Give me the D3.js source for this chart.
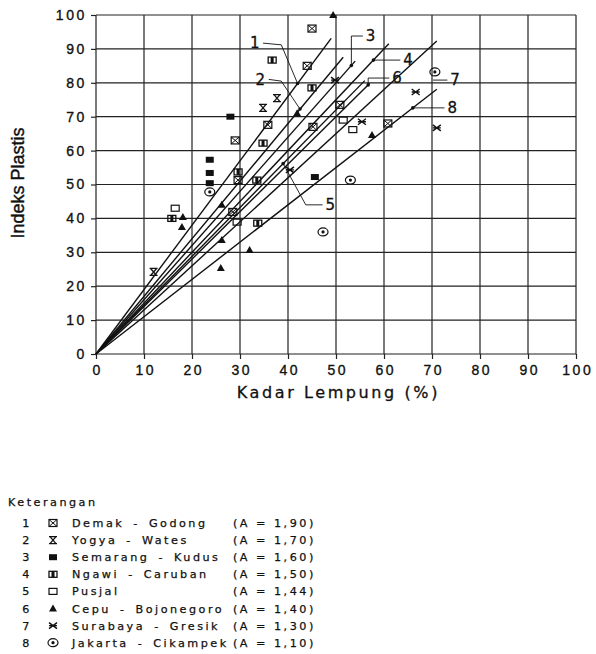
<!DOCTYPE html>
<html>
<head>
<meta charset="utf-8">
<script src="https://cdn.jsdelivr.net/npm/d3@7/dist/d3.min.js"></script>
<style>
    body { margin: 0; background: #fff; }
    svg { display: block; font-family: "DejaVu Sans", sans-serif; }
    .tick-label { font-size: 14px; letter-spacing: 2.6px; fill: #111; stroke: #111; stroke-width: 0.35px; }
    .legend text { font-size: 11.2px; letter-spacing: 2.5px; fill: #111; stroke: #111; stroke-width: 0.25px; }
</style>
</head>
<body>
<svg id="chart" width="596" height="654"></svg>
<script>
// tick values on both axes
const xTicks = [0, 10, 20, 30, 40, 50, 60, 70, 80, 90, 100];
const yTicks = [0, 10, 20, 30, 40, 50, 60, 70, 80, 90, 100];

// regression lines: IP = A * kadar lempung
const lineNames = ["1", "2", "3", "4", "5", "6", "7", "8"];
const lineSlopes = [1.90, 1.70, 1.60, 1.50, 1.44, 1.40, 1.30, 1.10];
const lineEndX = [49, 51.5, 54, 61, 56, 57, 71, 71];

// line labels and their leader lines (last point lands on the line at leaderX; null = short dash only)
const labelPos = [[33.1, 91.7], [34.2, 81], [57.2, 93.8], [65, 86.7], [48.8, 44], [62.7, 81.4], [74.8, 80.8], [74.2, 72.6]];
const leaderBends = [
    [[34.8, 91.7], [38.6, 91.2]],
    [[36, 81], [38.6, 80.5]],
    [[55.6, 93.8], [53.2, 93.8]],
    [[63.4, 86.7]],
    [[47.2, 44], [43.7, 44]],
    [[61.1, 81.4], [56.7, 81.4]],
    [[73.2, 80.8], [70.2, 80.8]],
    [[72.6, 72.6]]
];
const leaderX = [42, 42.5, 53.2, 57.8, 39, 56.7, null, 66];

// legend
const regionNames = ["Demak - Godong", "Yogya - Wates", "Semarang - Kudus", "Ngawi - Caruban",
    "Pusjal", "Cepu - Bojonegoro", "Surabaya - Gresik", "Jakarta - Cikampek"];
const aLabels = ["1,90", "1,70", "1,60", "1,50", "1,44", "1,40", "1,30", "1,10"];

// observed points [kadar lempung, indeks plastis]
const demakGodong = [[45, 96], [44, 85], [29, 63], [35.8, 67.6], [50.8, 73.5], [60.8, 68], [29.6, 51.3], [45.2, 67], [28.5, 41.9]];
const yogyaWates = [[37.7, 75.5], [12, 24.2], [34.8, 72.6]];
const semarangKudus = [[28, 70], [23.7, 57.3], [23.7, 53.4], [23.7, 50.4], [45.6, 52.2]];
const ngawiCaruban = [[36.7, 86.7], [45, 78.5], [34.8, 62.2], [15.8, 40], [33.5, 51.3], [29.6, 53.7], [33.7, 38.6]];
const pusjal = [[16.5, 43], [51.5, 69], [53.5, 66.2], [29.4, 38.9]];
const cepuBojonegoro = [[49.4, 100], [41.9, 71], [18.1, 40.4], [17.9, 37.5], [26, 25.4], [32, 30.7], [26.2, 33.6], [26.2, 44], [57.5, 64.6]];
const surabayaGresik = [[66.6, 77.3], [71, 66.7], [55.4, 68.5], [49.8, 80.8], [40.4, 54.3]];
const jakartaCikampek = [[70.6, 83.2], [53, 51.3], [47.3, 36], [23.7, 47.8]];

const series = [demakGodong, yogyaWates, semarangKudus, ngawiCaruban, pusjal, cepuBojonegoro, surabayaGresik, jakartaCikampek];

const margin = {top: 15, left: 96};
const width = 480, height = 339;

const svg = d3.select("#chart");
svg.append("rect").attr("width", 596).attr("height", 654).attr("fill", "#fff");

const g = svg.append("g").attr("transform", "translate(" + margin.left + "," + margin.top + ")");

const x = d3.scaleLinear().domain([0, 100]).range([0, width]);
const y = d3.scaleLinear().domain([0, 100]).range([height, 0]);

// grid
g.selectAll(".vgrid").data(xTicks).enter().append("line")
    .attr("x1", d => x(d)).attr("x2", d => x(d)).attr("y1", 0).attr("y2", height)
    .attr("stroke", "#222").attr("stroke-width", 1.2);
g.selectAll(".hgrid").data(yTicks).enter().append("line")
    .attr("x1", 0).attr("x2", width).attr("y1", d => y(d)).attr("y2", d => y(d))
    .attr("stroke", "#222").attr("stroke-width", 1.2);

// axes
const xAxis = g.append("g").attr("transform", "translate(0," + height + ")")
    .call(d3.axisBottom(x).tickValues(xTicks).tickSize(5).tickPadding(6).tickFormat(d3.format("d")));
const yAxis = g.append("g")
    .call(d3.axisLeft(y).tickValues(yTicks).tickSize(5).tickPadding(4).tickFormat(d3.format("d")));
[xAxis, yAxis].forEach(a => {
    a.select(".domain").remove();
    a.selectAll(".tick line").attr("stroke", "#222").attr("stroke-width", 1.2);
    a.selectAll(".tick text").attr("class", "tick-label").attr("font-family", null).attr("font-size", null);
});
xAxis.selectAll(".tick text").attr("dx", "1.3px");

g.append("text").attr("x", x(50.5)).attr("y", height + 44)
    .attr("text-anchor", "middle").attr("font-size", 16).attr("letter-spacing", 2.6)
    .attr("fill", "#111").attr("stroke", "#111").attr("stroke-width", 0.3).text("Kadar Lempung (%)");

svg.append("text").attr("transform", "translate(24,183) rotate(-90)")
    .attr("text-anchor", "middle").attr("font-family", "Liberation Sans, Arial, sans-serif")
    .attr("font-size", 18).attr("fill", "#111").attr("stroke", "#111").attr("stroke-width", 0.4)
    .text("Indeks Plastis");

// regression lines
const lineData = lineSlopes.map((a, i) => [[0, 0], [lineEndX[i], a * lineEndX[i]]]);
const valueline = d3.line().x(d => x(d[0])).y(d => y(d[1]));
g.selectAll(".reg").data(lineData).enter().append("path")
    .attr("d", valueline).attr("fill", "none").attr("stroke", "#111").attr("stroke-width", 1.4);

// leaders and labels
lineNames.forEach((name, i) => {
    let pts = leaderBends[i].slice(0);
    if (leaderX[i] !== null) {
        pts.push([leaderX[i], lineSlopes[i] * leaderX[i]]);
        g.append("circle").attr("cx", x(pts[pts.length - 1][0])).attr("cy", y(pts[pts.length - 1][1]))
            .attr("r", 1.8).attr("fill", "#111");
    }
    g.append("path").attr("d", valueline(pts)).attr("fill", "none").attr("stroke", "#111").attr("stroke-width", 0.9);
    g.append("text").attr("x", x(labelPos[i][0])).attr("y", y(labelPos[i][1]))
        .attr("dy", "0.35em").attr("text-anchor", "middle").attr("font-size", 15)
        .attr("fill", "#111").attr("stroke", "#111").attr("stroke-width", 0.3).text(name);
});

// marker shapes, drawn around (0,0)
function marker(sel, type) {
    const k = "#111";
    if (type === 0) {
        sel.append("rect").attr("x", -4).attr("y", -3.5).attr("width", 8).attr("height", 7).attr("fill", "none").attr("stroke", k).attr("stroke-width", 1.2);
        sel.append("path").attr("d", "M-4,-3.5L4,3.5M-4,3.5L4,-3.5").attr("stroke", k).attr("stroke-width", 1);
    } else if (type === 1) {
        sel.append("path").attr("d", "M-4,-3.5H4M-4,3.5H4M-3,-3.5L3,3.5M3,-3.5L-3,3.5").attr("stroke", k).attr("stroke-width", 1.3).attr("fill", "none");
    } else if (type === 2) {
        sel.append("rect").attr("x", -4).attr("y", -3).attr("width", 8).attr("height", 6).attr("fill", k);
    } else if (type === 3) {
        sel.append("rect").attr("x", -4).attr("y", -3).attr("width", 8).attr("height", 6).attr("fill", "none").attr("stroke", k).attr("stroke-width", 1.3);
        sel.append("rect").attr("x", -1.5).attr("y", -3).attr("width", 3).attr("height", 6).attr("fill", k);
    } else if (type === 4) {
        sel.append("rect").attr("x", -4).attr("y", -3).attr("width", 8).attr("height", 6).attr("fill", "none").attr("stroke", k).attr("stroke-width", 1.2);
    } else if (type === 5) {
        sel.append("path").attr("d", "M0,-4L4,3L-4,3Z").attr("fill", k);
    } else if (type === 6) {
        sel.append("path").attr("d", "M-4,-3L4,3M-4,3L4,-3M-4,0H4").attr("stroke", k).attr("stroke-width", 1.4);
    } else {
        sel.append("ellipse").attr("rx", 5).attr("ry", 4).attr("fill", "none").attr("stroke", k).attr("stroke-width", 1.2);
        sel.append("circle").attr("r", 1.6).attr("fill", k);
    }
}

series.forEach((pts, i) => {
    g.selectAll(".pt" + i).data(pts).enter().append("g")
        .attr("transform", d => "translate(" + x(d[0]) + "," + y(d[1]) + ")")
        .each(function () { marker(d3.select(this), i); });
});

// legend
const legend = svg.append("g").attr("class", "legend");
legend.append("text").attr("x", 8).attr("y", 506).text("Keterangan");
regionNames.forEach((name, i) => {
    const ry = 523 + i * 17.1;
    legend.append("text").attr("x", 27).attr("y", ry + 4).attr("text-anchor", "middle").text(lineNames[i]);
    marker(legend.append("g").attr("transform", "translate(53," + ry + ")"), i);
    const t = legend.append("text").attr("x", 72).attr("y", ry + 4).attr("word-spacing", 3).text(name);
    const ax = Math.max(233, 72 + t.node().getComputedTextLength() + 2);
    legend.append("text").attr("x", ax).attr("y", ry + 4).text("(A = " + aLabels[i] + ")");
});
</script>
</body>
</html>
